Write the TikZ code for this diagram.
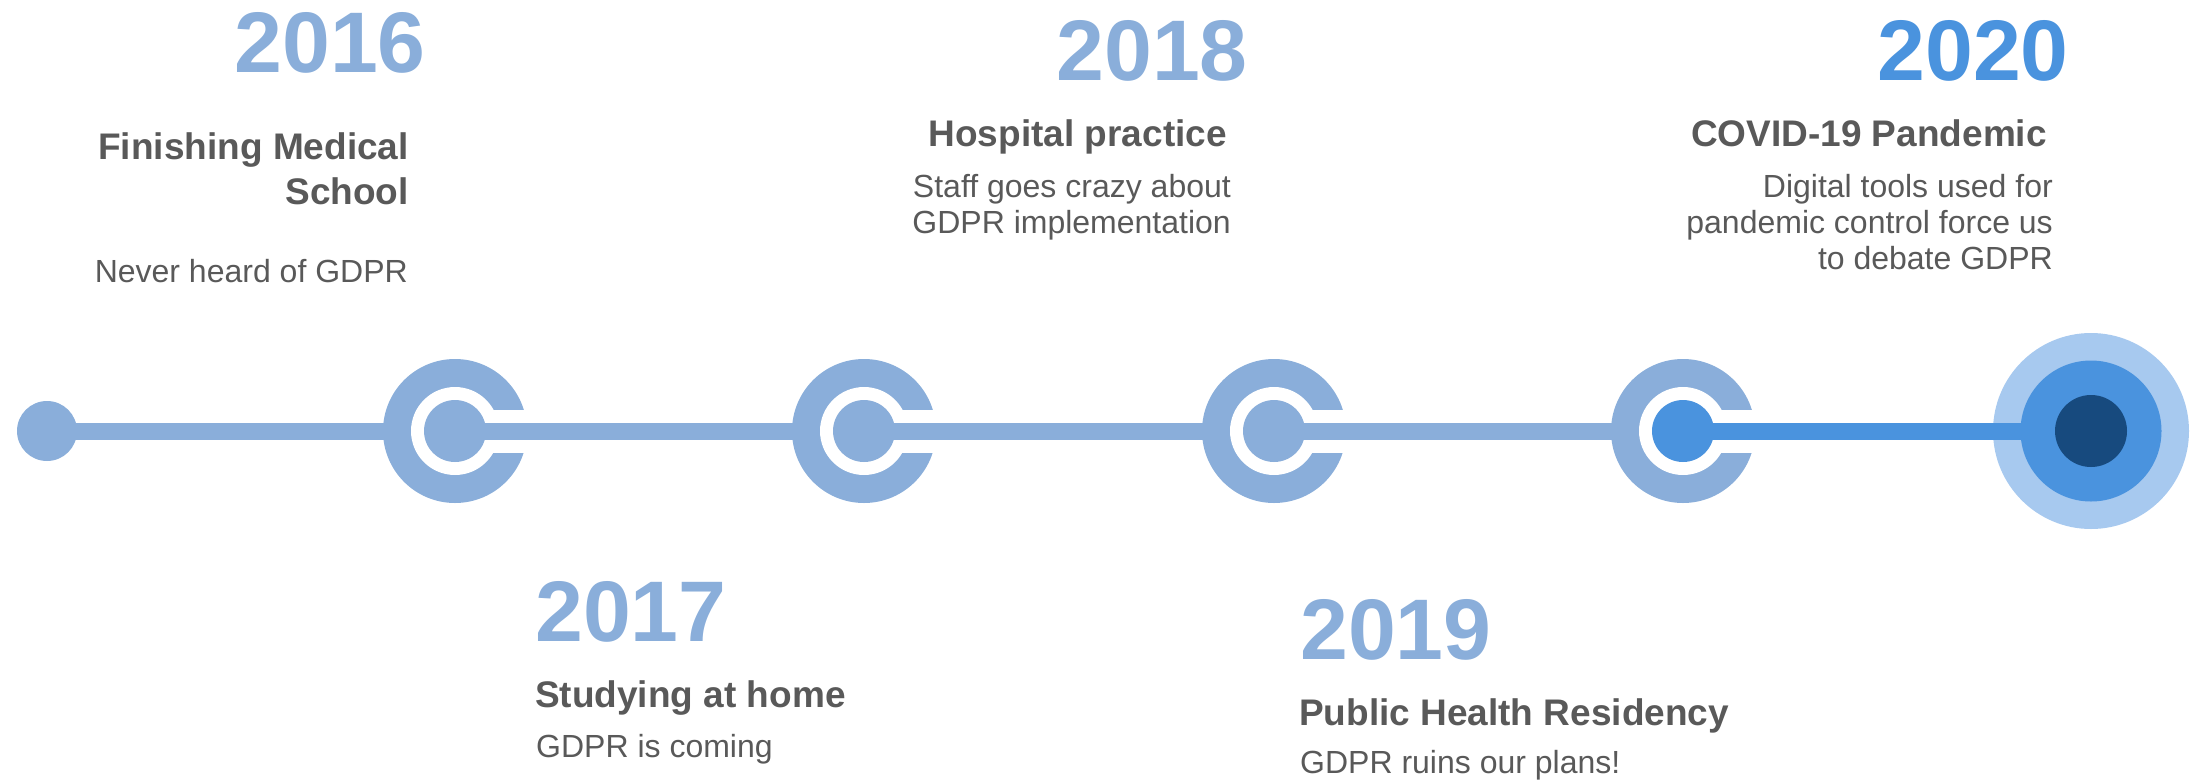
\documentclass[tikz,border=0pt]{standalone}
\usepackage{fontspec}
\setmainfont{Liberation Sans}
\definecolor{steel}{HTML}{8AAEDA}
\definecolor{bright}{HTML}{4A93DE}
\definecolor{lightb}{HTML}{A7C9EF}
\definecolor{darkb}{HTML}{174A7E}
\definecolor{txt}{HTML}{595959}
\begin{document}
\begin{tikzpicture}[x=1pt,y=-1pt,
  disc/.style={circle,inner sep=0pt,draw=none},
  yr/.style={font=\fontsize{86}{86}\selectfont\bfseries, text=steel, inner sep=0pt},
  ttl/.style={font=\fontsize{37}{44}\selectfont\bfseries, text=txt, inner sep=0pt},
  dsc/.style={font=\fontsize{32}{36}\selectfont, text=txt, inner sep=0pt},
  tl/.style={line width=17pt, draw=steel},
  ring/.style={disc, fill=steel, minimum size=144pt},
  hole/.style={disc, fill=white, minimum size=88pt},
  dot/.style={disc, fill=steel, minimum size=62pt}]
\useasboundingbox (0,0) rectangle (2201,782);

% start dot
\node[disc, fill=steel, minimum size=60pt] (d0) at (47,431) {};

% C rings
\foreach \i/\cx in {1/455,2/864,3/1274,4/1683}{
  \node[ring] (r\i) at (\cx,431) {};
  \node[hole] (h\i) at (\cx,431) {};
  \fill[white] (r\i.center) ++(0,-21.5) rectangle ++(80,43);
}

% target
\node[disc, fill=lightb, minimum size=196pt] (t0) at (2091,431) {};

% connecting line
\draw[tl] (d0.center) -- ([xshift=2pt]r1.west);
\draw[tl] (r1.center) -- ([xshift=2pt]r2.west);
\draw[tl] (r2.center) -- ([xshift=2pt]r3.west);
\draw[tl] (r3.center) -- ([xshift=2pt]r4.west);
\draw[tl, draw=bright] (r4.center) -- (t0.center);

% inner dots
\node[dot] (c1) at (r1.center) {};
\node[dot] (c2) at (r2.center) {};
\node[dot] (c3) at (r3.center) {};
\node[dot, fill=bright] (c4) at (r4.center) {};
\node[disc, fill=bright, minimum size=141pt] (t1) at (t0.center) {};
\node[disc, fill=darkb, minimum size=72pt] (t2) at (t0.center) {};

% 2016
\node[yr, anchor=base east] (y16) at (426,72) {2016};
\node[ttl, anchor=base east] (a16) at (409,159) {Finishing Medical};
\node[ttl, anchor=base east] (b16) at (409,204) {School};
\node[dsc, anchor=base east] (c16) at (408,282) {Never heard of GDPR};

% 2017
\node[yr, anchor=base west] (y17) at (535,641) {2017};
\node[ttl, anchor=base west] (a17) at (535,707) {Studying at home};
\node[dsc, anchor=base west] (c17) at (536,757) {GDPR is coming};

% 2018
\node[yr, anchor=base east] (y18) at (1248,80) {2018};
\node[ttl, anchor=base east] (a18) at (1227,146) {Hospital practice};
\node[dsc, anchor=base east] (c18) at (1231,197) {Staff goes crazy about};
\node[dsc, anchor=base east] (e18) at (1231,233) {GDPR implementation};

% 2019
\node[yr, anchor=base west] (y19) at (1300,659) {2019};
\node[ttl, anchor=base west] (a19) at (1299,725) {Public Health Residency};
\node[dsc, anchor=base west] (c19) at (1300,773) {GDPR ruins our plans!};

% 2020
\node[yr, anchor=base east, text=bright] (y20) at (2069,80) {2020};
\node[ttl, anchor=base east] (a20) at (2047,146) {COVID-19 Pandemic};
\node[dsc, anchor=base east] (c20) at (2053,197) {Digital tools used for};
\node[dsc, anchor=base east] (e20) at (2053,233) {pandemic control force us};
\node[dsc, anchor=base east] (f20) at (2053,269) {to debate GDPR};
\end{tikzpicture}
\end{document}
